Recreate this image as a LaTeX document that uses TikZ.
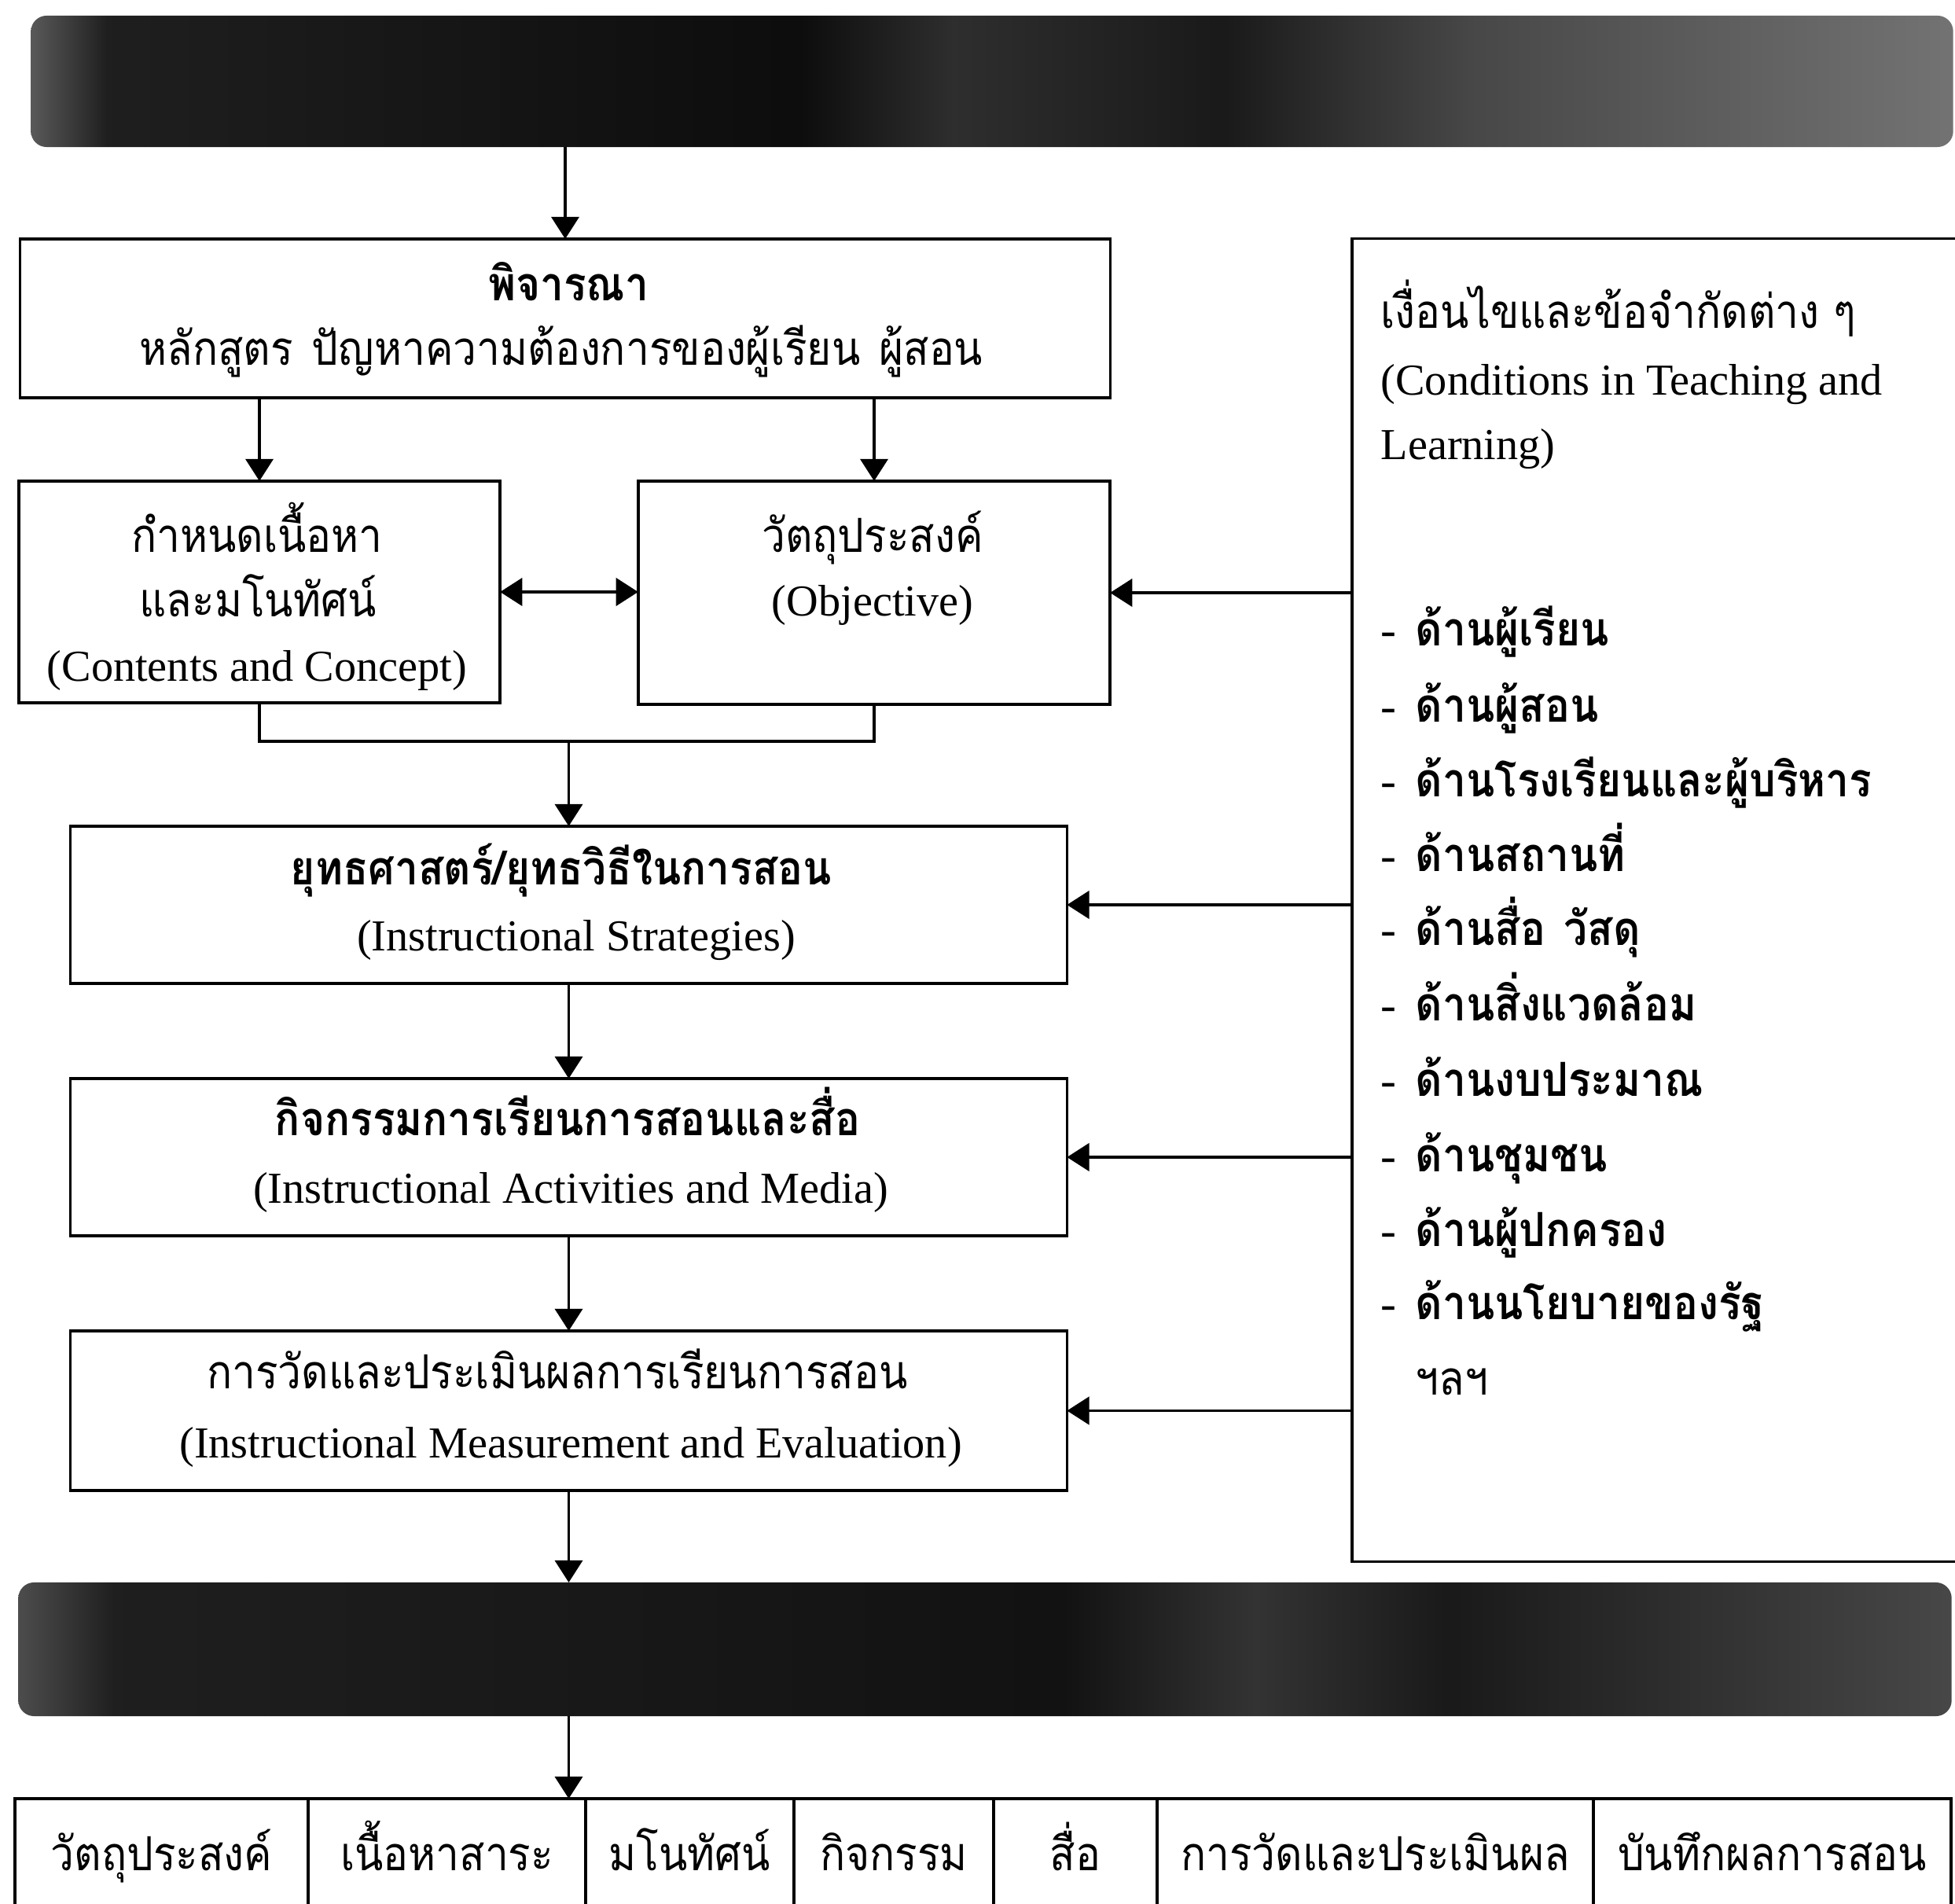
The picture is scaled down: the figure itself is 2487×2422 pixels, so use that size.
\documentclass[tikz,border=0pt]{standalone}
\usepackage{fontspec}
\setmainfont{Liberation Serif}
\newfontfamily\thai[Script=Thai, FakeStretch=0.89]{Loma}
\usetikzlibrary{arrows.meta}

\pgfdeclarehorizontalshading{bandtop}{100bp}{color(0bp)=(black!65); color(25bp)=(black!65); color(27bp)=(black!88); color(45bp)=(black!95); color(49bp)=(black!82); color(56bp)=(black!90); color(62.5bp)=(black!72); color(75bp)=(black!55); color(100bp)=(black!55)}
\pgfdeclarehorizontalshading{bandbot}{100bp}{color(0bp)=(black!70); color(25bp)=(black!70); color(27.5bp)=(black!88); color(52bp)=(black!93); color(57bp)=(black!80); color(62bp)=(black!90); color(75bp)=(black!72); color(100bp)=(black!72)}

\begin{document}
\begin{tikzpicture}[x=0.01cm,y=-0.01cm,
  box/.style={draw, line width=1pt, rectangle, inner sep=0pt, outer sep=0pt},
  band/.style={rectangle, rounded corners=0.2cm, inner sep=0pt, outer sep=0pt, shade},
  arr/.style={line width=1pt, -{Triangle[length=8pt,width=10pt]}},
  darr/.style={line width=1pt, {Triangle[length=8pt,width=10pt]}-{Triangle[length=8pt,width=10pt]}},
  conn/.style={line width=1pt},
  th/.style={font=\thai\fontsize{17}{20}\selectfont, inner sep=0pt, anchor=base},
  thb/.style={font=\thai\bfseries\fontsize{17}{20}\selectfont, inner sep=0pt, anchor=base},
  en/.style={font=\fontsize{16}{19}\selectfont, inner sep=0pt, anchor=base},
  item/.style={font=\thai\bfseries\fontsize{17}{20}\selectfont, inner sep=0pt, anchor=base west},
  cell/.style={box, minimum height=1.42cm, text height=13pt, text depth=1.5pt, font=\thai\fontsize{17}{20}\selectfont}
]
\useasboundingbox (0,0) rectangle (2487,2422);

% bands
\node[band, shading=bandtop, minimum width=24.44cm, minimum height=1.67cm] (band1) at (1262,103.5) {};
\node[band, shading=bandbot, minimum width=24.58cm, minimum height=1.70cm] (band2) at (1253,2098) {};

% boxes
\node[box, minimum width=13.86cm, minimum height=2.02cm] (b1) at (719,405) {};
\node[box, minimum width=6.12cm, minimum height=2.82cm] (b2) at (330,753) {};
\node[box, minimum width=6.00cm, minimum height=2.84cm] (b3) at (1112,754) {};
\node[box, minimum width=12.67cm, minimum height=2.00cm] (b4) at (723.5,1151) {};
\node[box, minimum width=12.67cm, minimum height=2.00cm] (b5) at (723.5,1472) {};
\node[box, minimum width=12.67cm, minimum height=2.03cm] (b6) at (723.5,1794.5) {};
\node[box, minimum width=7.80cm, minimum height=16.82cm] (cond) at (2110,1145) {};

% box texts
\node[thb] (t1a) at (723,383) {พิจารณา};
\node[th] (t1b) at (714,465) {หลักสูตร\hspace{0.4em}ปัญหาความต้องการของผู้เรียน\hspace{0.4em}ผู้สอน};
\node[th] (t2a) at (327,703) {กำหนดเนื้อหา};
\node[th] (t2b) at (328,785) {และมโนทัศน์};
\node[en] (t2c) at (327,867) {(Contents and Concept)};
\node[th] (t3a) at (1110,703) {วัตถุประสงค์};
\node[en] (t3b) at (1110,784) {(Objective)};
\node[thb] (t4a) at (714,1126) {ยุทธศาสตร์/ยุทธวิธีในการสอน};
\node[en] (t4b) at (733,1210) {(Instructional Strategies)};
\node[thb] (t5a) at (722,1445) {กิจกรรมการเรียนการสอนและสื่อ};
\node[en] (t5b) at (726,1530) {(Instructional Activities and Media)};
\node[th] (t6a) at (709,1766) {การวัดและประเมินผลการเรียนการสอน};
\node[en] (t6b) at (726,1854) {(Instructional Measurement and Evaluation)};

% conditions texts
\node[th, anchor=base west] (c1) at (1756,418) {เงื่อนไขและข้อจำกัดต่าง ๆ};
\node[en, anchor=base west] (c2) at (1756,503) {(Conditions in Teaching and};
\node[en, anchor=base west] (c3) at (1756,585) {Learning)};
\node[item] (i1) at (1756,822) {\makebox[0.44cm][l]{\normalfont -}ด้านผู้เรียน};
\node[item] (i2) at (1756,919) {\makebox[0.44cm][l]{\normalfont -}ด้านผู้สอน};
\node[item] (i3) at (1756,1014) {\makebox[0.44cm][l]{\normalfont -}ด้านโรงเรียนและผู้บริหาร};
\node[item] (i4) at (1756,1109) {\makebox[0.44cm][l]{\normalfont -}ด้านสถานที่};
\node[item] (i5) at (1756,1203) {\makebox[0.44cm][l]{\normalfont -}ด้านสื่อ\hspace{0.4em}วัสดุ};
\node[item] (i6) at (1756,1299) {\makebox[0.44cm][l]{\normalfont -}ด้านสิ่งแวดล้อม};
\node[item] (i7) at (1756,1394) {\makebox[0.44cm][l]{\normalfont -}ด้านงบประมาณ};
\node[item] (i8) at (1756,1490) {\makebox[0.44cm][l]{\normalfont -}ด้านชุมชน};
\node[item] (i9) at (1756,1585) {\makebox[0.44cm][l]{\normalfont -}ด้านผู้ปกครอง};
\node[item] (i10) at (1756,1678) {\makebox[0.44cm][l]{\normalfont -}ด้านนโยบายของรัฐ};
\node[th, anchor=base west] (i11) at (1800,1774) {ฯลฯ};

% table
\node[cell, minimum width=3.73cm] (k1) at (205.5,2359) {วัตถุประสงค์};
\node[cell, minimum width=3.53cm] (k2) at (568.5,2359) {เนื้อหาสาระ};
\node[cell, minimum width=2.65cm] (k3) at (877.5,2359) {มโนทัศน์};
\node[cell, minimum width=2.54cm] (k4) at (1137,2359) {กิจกรรม};
\node[cell, minimum width=2.08cm] (k5) at (1368,2359) {สื่อ};
\node[cell, minimum width=5.55cm] (k6) at (1749.5,2359) {การวัดและประเมินผล};
\node[cell, minimum width=4.55cm] (k7) at (2254.5,2359) {บันทึกผลการสอน};

% connectors
\draw[arr] (band1.south -| b1.north) -- (b1.north);
\draw[arr] (b1.south -| b2.north) -- (b2.north);
\draw[arr] (b1.south -| b3.north) -- (b3.north);
\draw[darr] (b2.east) -- (b2.east -| b3.west);
\draw[arr] (cond.west |- b3.east) -- (b3.east);
\coordinate (mj) at (723.5,943);
\draw[conn] (b2.south) |- (mj) -| (b3.south);
\draw[arr] (mj) -- (b4.north);
\draw[arr] (b4.south) -- (b5.north);
\draw[arr] (b5.south) -- (b6.north);
\draw[arr] (cond.west |- b4.east) -- (b4.east);
\draw[arr] (cond.west |- b5.east) -- (b5.east);
\draw[arr] (cond.west |- b6.east) -- (b6.east);
\draw[arr] (b6.south) -- (b6.south |- band2.north);
\draw[arr] (band2.south -| b6.south) -- (b6.south |- k2.north);
\end{tikzpicture}
\end{document}
